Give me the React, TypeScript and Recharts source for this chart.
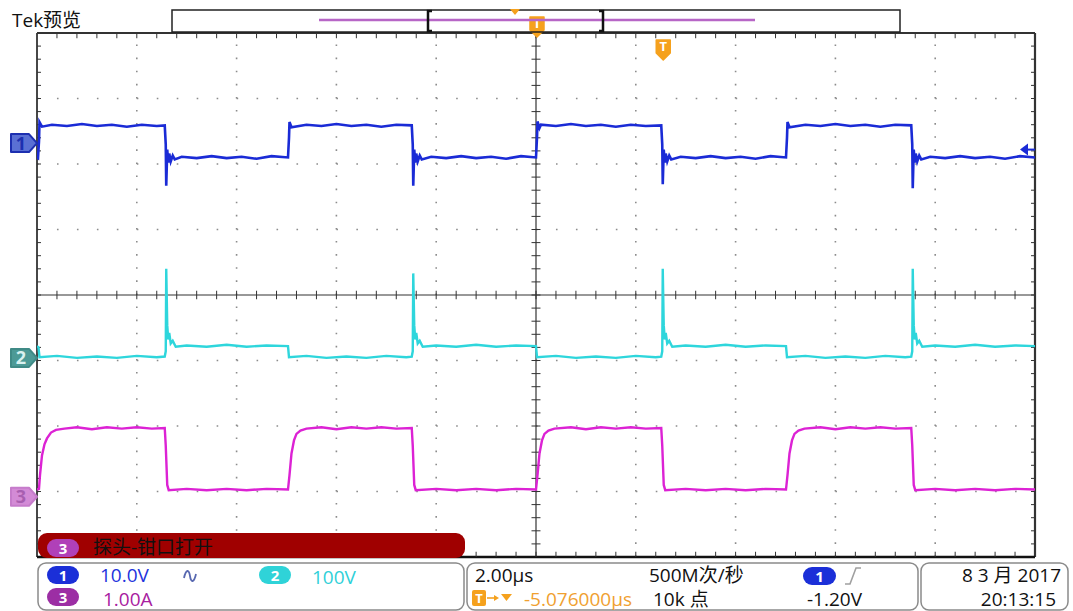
import React from 'react';
import { LineChart, Line, XAxis, YAxis, ReferenceLine, ReferenceDot } from 'recharts';

const W = 1073;
const H = 611;
const FONT = "'Open Sans', 'Noto Sans CJK SC', sans-serif";

// x: time in µs (2.00µs/div, 10 div), y: screen divisions from centre (8 div)
const timeRange: [number, number] = [-10, 10];
const levelRange: [number, number] = [-4, 4];
const timeGrid = [-8, -6, -4, -2, 2, 4, 6, 8];
const levelGrid = [-3, -2, -1, 1, 2, 3];

// CH1 (blue) gate-ish square wave
const ch1Trace: [number, number][] = [
  [-10.0, 2.1], [-9.98, 2.09], [-9.96, 2.35], [-9.95, 2.64], [-9.9, 2.57], [-9.7, 2.6], [-9.4, 2.58],
  [-9.1, 2.61], [-8.8, 2.58], [-8.5, 2.6], [-8.2, 2.57], [-7.9, 2.6], [-7.6, 2.58], [-7.44, 2.59],
  [-7.42, 2.3], [-7.41, 1.67], [-7.39, 2.22], [-7.37, 2.02], [-7.35, 2.16], [-7.32, 2.04], [-7.28, 2.13],
  [-7.24, 2.07], [-7.1, 2.11], [-6.8, 2.09], [-6.5, 2.12], [-6.2, 2.09], [-5.9, 2.11], [-5.6, 2.08],
  [-5.3, 2.12], [-4.97, 2.1],
  [-4.95, 2.4], [-4.94, 2.64], [-4.9, 2.56], [-4.6, 2.6], [-4.3, 2.58], [-4.0, 2.61], [-3.7, 2.58],
  [-3.4, 2.6], [-3.1, 2.57], [-2.8, 2.6], [-2.49, 2.59],
  [-2.47, 2.3], [-2.46, 1.67], [-2.44, 2.22], [-2.42, 2.02], [-2.4, 2.16], [-2.37, 2.04], [-2.33, 2.13],
  [-2.29, 2.07], [-2.1, 2.11], [-1.8, 2.09], [-1.5, 2.12], [-1.2, 2.09], [-0.9, 2.11], [-0.6, 2.08],
  [-0.3, 2.12], [0.0, 2.1],
  [0.02, 2.4], [0.03, 2.65], [0.07, 2.55], [0.1, 2.6], [0.4, 2.58], [0.7, 2.61], [1.0, 2.58],
  [1.3, 2.6], [1.6, 2.57], [1.9, 2.6], [2.2, 2.58], [2.51, 2.59],
  [2.53, 2.3], [2.54, 1.69], [2.56, 2.22], [2.58, 2.02], [2.6, 2.16], [2.63, 2.04], [2.67, 2.13],
  [2.71, 2.07], [2.9, 2.11], [3.2, 2.09], [3.5, 2.12], [3.8, 2.09], [4.1, 2.11], [4.4, 2.08],
  [4.7, 2.12], [5.01, 2.1],
  [5.03, 2.4], [5.04, 2.64], [5.08, 2.56], [5.4, 2.6], [5.7, 2.58], [6.0, 2.61], [6.3, 2.58],
  [6.6, 2.6], [6.9, 2.57], [7.2, 2.6], [7.52, 2.59],
  [7.54, 2.3], [7.55, 1.63], [7.57, 2.22], [7.59, 2.02], [7.61, 2.16], [7.64, 2.04], [7.68, 2.13],
  [7.72, 2.07], [7.9, 2.11], [8.2, 2.09], [8.5, 2.12], [8.8, 2.09], [9.1, 2.11], [9.4, 2.08],
  [9.7, 2.12], [10.0, 2.1],
];

// CH2 (cyan) drain voltage with turn-off spike
const ch2Trace: [number, number][] = [
  [-10.0, -0.78], [-9.97, -0.8], [-9.95, -0.95], [-9.6, -0.93], [-9.2, -0.96], [-8.8, -0.94],
  [-8.4, -0.96], [-8.0, -0.93], [-7.6, -0.95], [-7.44, -0.94],
  [-7.42, -0.86], [-7.41, 0.4], [-7.39, -0.46], [-7.37, -0.68], [-7.35, -0.58], [-7.32, -0.74],
  [-7.28, -0.7], [-7.22, -0.79], [-7.0, -0.77], [-6.6, -0.79], [-6.2, -0.76], [-5.8, -0.79],
  [-5.4, -0.77], [-4.97, -0.78],
  [-4.95, -0.95], [-4.6, -0.93], [-4.2, -0.96], [-3.8, -0.94], [-3.4, -0.96], [-3.0, -0.93],
  [-2.6, -0.95], [-2.49, -0.94],
  [-2.47, -0.86], [-2.46, 0.33], [-2.44, -0.46], [-2.42, -0.68], [-2.4, -0.58], [-2.37, -0.74],
  [-2.33, -0.7], [-2.27, -0.79], [-2.0, -0.77], [-1.6, -0.79], [-1.2, -0.76], [-0.8, -0.79],
  [-0.4, -0.77], [0.0, -0.78],
  [0.02, -0.95], [0.4, -0.93], [0.8, -0.96], [1.2, -0.94], [1.6, -0.96], [2.0, -0.93],
  [2.4, -0.95], [2.51, -0.94],
  [2.53, -0.86], [2.54, 0.4], [2.56, -0.46], [2.58, -0.68], [2.6, -0.58], [2.63, -0.74],
  [2.67, -0.7], [2.73, -0.79], [3.0, -0.77], [3.4, -0.79], [3.8, -0.76], [4.2, -0.79],
  [4.6, -0.77], [5.01, -0.78],
  [5.03, -0.95], [5.4, -0.93], [5.8, -0.96], [6.2, -0.94], [6.6, -0.96], [7.0, -0.93],
  [7.4, -0.95], [7.52, -0.94],
  [7.54, -0.86], [7.55, 0.4], [7.57, -0.46], [7.59, -0.68], [7.61, -0.58], [7.64, -0.74],
  [7.68, -0.7], [7.74, -0.79], [8.0, -0.77], [8.4, -0.79], [8.8, -0.76], [9.2, -0.79],
  [9.6, -0.77], [10.0, -0.78],
];

// CH3 (magenta) current
const ch3Trace: [number, number][] = [
  [-10.0, -2.97], [-9.96, -2.96], [-9.94, -2.75], [-9.9, -2.45], [-9.85, -2.28], [-9.8, -2.19],
  [-9.72, -2.1], [-9.62, -2.06], [-9.45, -2.04], [-9.2, -2.02], [-8.9, -2.05], [-8.6, -2.02],
  [-8.3, -2.04], [-8.0, -2.02], [-7.7, -2.04], [-7.44, -2.03],
  [-7.42, -2.3], [-7.39, -2.9], [-7.36, -2.98], [-7.0, -2.96], [-6.6, -2.98], [-6.2, -2.96],
  [-5.8, -2.98], [-5.4, -2.96], [-4.97, -2.97],
  [-4.94, -2.75], [-4.9, -2.42], [-4.85, -2.22], [-4.8, -2.12], [-4.72, -2.07], [-4.6, -2.04],
  [-4.3, -2.02], [-4.0, -2.05], [-3.7, -2.02], [-3.4, -2.04], [-3.1, -2.02], [-2.8, -2.04],
  [-2.49, -2.03],
  [-2.47, -2.3], [-2.44, -2.9], [-2.41, -2.98], [-2.0, -2.96], [-1.6, -2.98], [-1.2, -2.96],
  [-0.8, -2.98], [-0.4, -2.96], [0.0, -2.97],
  [0.03, -2.75], [0.07, -2.42], [0.12, -2.22], [0.17, -2.12], [0.25, -2.07], [0.37, -2.04],
  [0.7, -2.02], [1.0, -2.05], [1.3, -2.02], [1.6, -2.04], [1.9, -2.02], [2.2, -2.04], [2.51, -2.03],
  [2.53, -2.3], [2.56, -2.9], [2.59, -2.98], [3.0, -2.96], [3.4, -2.98], [3.8, -2.96],
  [4.2, -2.98], [4.6, -2.96], [5.01, -2.97],
  [5.04, -2.75], [5.08, -2.42], [5.13, -2.22], [5.18, -2.12], [5.26, -2.07], [5.38, -2.04],
  [5.7, -2.02], [6.0, -2.05], [6.3, -2.02], [6.6, -2.04], [6.9, -2.02], [7.2, -2.04], [7.52, -2.03],
  [7.54, -2.3], [7.57, -2.9], [7.6, -2.98], [8.0, -2.96], [8.4, -2.98], [8.8, -2.96],
  [9.2, -2.98], [9.6, -2.96], [10.0, -2.97],
];

const channelMarkers = [
  { id: '1', level: 2.32, fill: '#5a70d4', stroke: '#1d2fb0', text: '#1d2fb0' },
  { id: '2', level: -0.96, fill: '#4c9a96', stroke: '#3f8a86', text: '#d9f2f0' },
  { id: '3', level: -3.08, fill: '#d38bd6', stroke: '#c67ccb', text: '#a85fb0' },
];
const triggerTime = 0.02;
const triggerMarkTime = 2.55;
const triggerMarkLevel = 3.74;
const triggerLevel = 2.22;

const BLUE = '#1a2bd6';
const CYAN = '#2ed6dc';
const MAGENTA = '#dc22d4';
const ORANGE = '#f5a11d';

const toPts = (arr: [number, number][]) => arr.map(([t, v]) => ({ t, v }));
const sub = (n: number, step: number, start: number) =>
  Array.from({ length: n }, (_, i) => +(start + i * step).toFixed(2));
const subX = sub(49, 0.4, -9.6);
const subY = sub(39, 0.2, -3.8);

function ChannelMarker(props: any) {
  const { cx, cy, fill, stroke, text, id } = props;
  const pts = `${cx - 26},${cy - 9} ${cx - 8},${cy - 9} ${cx},${cy} ${cx - 8},${cy + 9} ${cx - 26},${cy + 9}`;
  return (
    <g>
      <polygon points={pts} fill={fill} stroke={stroke} strokeWidth={2} strokeLinejoin="round" />
      <text x={cx - 16} y={cy + 6.5} textAnchor="middle" fontSize={18} fontWeight={700} fill={text} fontFamily={FONT}>
        {id}
      </text>
    </g>
  );
}

function TMarker({ cx, cy }: any) {
  // cy is the tip of the marker
  const d = `M${cx - 7},${cy - 20} h14 v13 l-7,7 l-7,-7 z`;
  return (
    <g>
      <path d={d} fill={ORANGE} stroke={ORANGE} strokeWidth={1.5} strokeLinejoin="round" />
      <text x={cx} y={cy - 9} textAnchor="middle" fontSize={13} fontWeight={700} fill="#fff" fontFamily={FONT}>
        T
      </text>
    </g>
  );
}

function LevelArrow({ cx, cy }: any) {
  return (
    <g>
      <line x1={cx - 8} y1={cy} x2={cx} y2={cy} stroke={BLUE} strokeWidth={2} />
      <polygon points={`${cx - 15},${cy} ${cx - 7},${cy - 6} ${cx - 7},${cy + 6}`} fill={BLUE} />
    </g>
  );
}

function Pill({ x, y, w, h, fill, label }: any) {
  return (
    <g>
      <rect x={x} y={y} width={w} height={h} rx={h / 2} fill={fill} />
      <text x={x + w / 2} y={y + h - 3.5} textAnchor="middle" fontSize={15} fontWeight={700} fill="#fff" fontFamily={FONT}>
        {label}
      </text>
    </g>
  );
}

function Overlay() {
  const txt = { fontFamily: FONT, fontSize: 19 } as const;
  return (
    <svg width={W} height={H} style={{ position: 'absolute', left: 0, top: 0, pointerEvents: 'none' }}>
      {/* header */}
      <text x={12} y={27} fontFamily={FONT} fontSize={19} fill="#111">Tek预览</text>
      <rect x={172} y={10} width={728} height={22} fill="none" stroke="#222" strokeWidth={1.5} />
      <line x1={319} y1={20} x2={755} y2={20} stroke="#b766c6" strokeWidth={2.5} />
      <path d="M432,11 L428,11 L428,31 L432,31" fill="none" stroke="#111" strokeWidth={2.5} />
      <path d="M599,11 L603,11 L603,31 L599,31" fill="none" stroke="#111" strokeWidth={2.5} />
      <polygon points="510,9 520,9 515,15" fill={ORANGE} />

      {/* probe message bar */}
      <rect x={38} y={533} width={427} height={25} rx={9} fill="#a00000" />
      <Pill x={47} y={539} w={32} h={18} fill="#b040b8" label="3" />
      <text x={93} y={554} fontFamily={FONT} fontSize={19} fill="#111">探头-钳口打开</text>

      {/* vertical settings */}
      <rect x={38} y={563} width={426} height={47} rx={8} fill="#fff" stroke="#8a8a8a" strokeWidth={1.5} />
      <Pill x={47} y={566} w={32} h={18} fill="#1b2fd8" label="1" />
      <text x={100} y={582} {...txt} fill="#2233dd">10.0V</text>
      <path d="M184,578 C186,569 189,569 190,576 C191,583 194,583 196,574" fill="none" stroke="#5868b0" strokeWidth={1.8} />
      <Pill x={259} y={566} w={32} h={18} fill="#2fd3d8" label="2" />
      <text x={312} y={584} {...txt} fill="#2fd0d8">100V</text>
      <Pill x={47} y={588} w={32} h={18} fill="#9c2ea4" label="3" />
      <text x={103} y={606} {...txt} fill="#a8209f">1.00A</text>

      {/* horizontal / trigger settings */}
      <rect x={467} y={563} width={451} height={47} rx={8} fill="#fff" stroke="#8a8a8a" strokeWidth={1.5} />
      <text x={475} y={582} {...txt} fill="#111">2.00µs</text>
      <text x={649} y={582} {...txt} fill="#111">500M次/秒</text>
      <Pill x={803} y={567} w={33} h={18} fill="#1b2fd8" label="1" />
      <path d="M845,584 L850,584 L856,568 L861,568" fill="none" stroke="#a0a0a0" strokeWidth={1.6} />
      <rect x={472} y={590} width={14} height={16} rx={2} fill={ORANGE} />
      <text x={479} y={603} textAnchor="middle" fontFamily={FONT} fontSize={13} fontWeight={700} fill="#fff">T</text>
      <line x1={487} y1={598} x2={496} y2={598} stroke={ORANGE} strokeWidth={1.6} />
      <polygon points="499,598 494,595 494,601" fill={ORANGE} />
      <polygon points="501,594 512,594 506.5,601" fill={ORANGE} />
      <text x={524} y={606} {...txt} fill="#f0a030">-5.076000µs</text>
      <text x={653} y={606} {...txt} fill="#111">10k 点</text>
      <text x={807} y={606} {...txt} fill="#111">-1.20V</text>

      {/* date / time */}
      <rect x={921} y={563} width={147} height={47} rx={8} fill="#fff" stroke="#8a8a8a" strokeWidth={1.5} />
      <text x={1061} y={582} textAnchor="end" {...txt} fill="#111">8 3 月 2017</text>
      <text x={1056} y={606} textAnchor="end" {...txt} fill="#111">20:13:15</text>
    </svg>
  );
}

export default function App() {
  const gridColor = '#8c8c8c';
  const axisColor = '#333';
  return (
    <div style={{ position: 'absolute', left: 0, top: 0, width: W, height: H, background: '#fff' }}>
      <LineChart width={W} height={H} margin={{ top: 33, right: 38, bottom: 54, left: 37 }}>
        <XAxis dataKey="t" type="number" domain={timeRange} allowDataOverflow hide />
        <YAxis type="number" domain={levelRange} allowDataOverflow hide />

        {/* dotted graticule */}
        {timeGrid.map((x) => (
          <ReferenceLine key={`gx${x}`} x={x} stroke={gridColor} strokeWidth={1.6} strokeDasharray="1.6 11.5" />
        ))}
        {levelGrid.map((y) => (
          <ReferenceLine key={`gy${y}`} y={y} stroke={gridColor} strokeWidth={1.6} strokeDasharray="1.6 18.36" />
        ))}

        {/* centre cross with minor ticks */}
        <ReferenceLine x={0} stroke={axisColor} strokeWidth={1.2} />
        <ReferenceLine y={0} stroke={axisColor} strokeWidth={1.2} />
        {subX.map((x) => (
          <ReferenceLine key={`cx${x}`} segment={[{ x, y: -0.065 }, { x, y: 0.065 }]} stroke={axisColor} strokeWidth={1} />
        ))}
        {subY.map((y) => (
          <ReferenceLine key={`cy${y}`} segment={[{ x: -0.09, y }, { x: 0.09, y }]} stroke={axisColor} strokeWidth={1} />
        ))}

        {/* frame with inward ticks */}
        <ReferenceLine x={-10} stroke={axisColor} strokeWidth={1.8} />
        <ReferenceLine x={10} stroke={axisColor} strokeWidth={2.2} />
        <ReferenceLine y={4} stroke={axisColor} strokeWidth={1.8} />
        <ReferenceLine y={-4} stroke="#111" strokeWidth={2.6} />
        {subX.map((x) => (
          <ReferenceLine key={`tt${x}`} segment={[{ x, y: 4 }, { x, y: 3.92 }]} stroke={axisColor} strokeWidth={1} />
        ))}
        {subX.map((x) => (
          <ReferenceLine key={`tb${x}`} segment={[{ x, y: -4 }, { x, y: -3.92 }]} stroke={axisColor} strokeWidth={1} />
        ))}
        {subY.map((y) => (
          <ReferenceLine key={`tl${y}`} segment={[{ x: -10, y }, { x: -9.92, y }]} stroke={axisColor} strokeWidth={1} />
        ))}
        {subY.map((y) => (
          <ReferenceLine key={`tr${y}`} segment={[{ x: 10, y }, { x: 9.92, y }]} stroke={axisColor} strokeWidth={1} />
        ))}

        <Line data={toPts(ch2Trace)} dataKey="v" type="linear" stroke={CYAN} strokeWidth={2.4} dot={false} isAnimationActive={false} />
        <Line data={toPts(ch3Trace)} dataKey="v" type="linear" stroke={MAGENTA} strokeWidth={2.4} dot={false} isAnimationActive={false} />
        <Line data={toPts(ch1Trace)} dataKey="v" type="linear" stroke={BLUE} strokeWidth={2.6} dot={false} isAnimationActive={false} />

        {channelMarkers.map((m) => (
          <ReferenceDot
            key={`m${m.id}`}
            x={-10}
            y={m.level}
            ifOverflow="visible"
            shape={(p: any) => <ChannelMarker {...p} {...m} />}
          />
        ))}
        <ReferenceDot x={triggerTime} y={4} ifOverflow="visible" shape={(p: any) => <TMarker cx={p.cx} cy={p.cy + 4} />} />
        <ReferenceDot x={triggerMarkTime} y={triggerMarkLevel} ifOverflow="visible" shape={(p: any) => <TMarker cx={p.cx} cy={p.cy + 10} />} />
        <ReferenceDot x={10} y={triggerLevel} ifOverflow="visible" shape={(p: any) => <LevelArrow cx={p.cx} cy={p.cy} />} />
      </LineChart>
      <Overlay />
    </div>
  );
}
